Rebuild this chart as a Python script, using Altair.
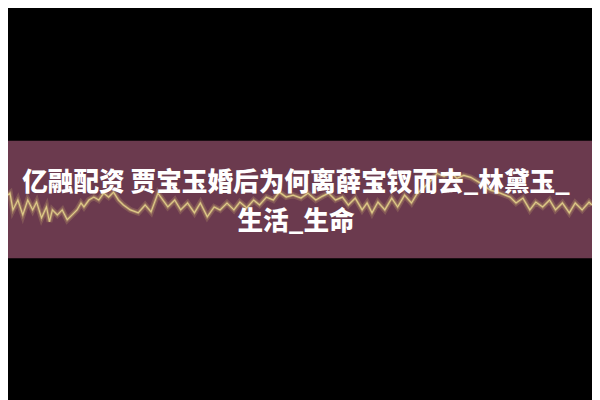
import altair as alt
import pandas as pd

# waveform samples (time, amplitude)
wave_t = [0,5,10,13,18,23,28,33,37,42,47,50,53,58,63,68,73,78,82,85,90,95,100,105,110,115,120,125,132,140,147,153,160,170,177,183,190,197,203,210,217,223,230,237,243,250,257,263,270,277,283,290,297,305,312,320,327,333,340,347,353,360,367,372,377,383,390,397,403,410,417,423,430,437,443,450,457,463,470,477,487,497,507,517,523,530,537,543,550,557,563,570,577,583,590,597,600]
wave_y = [192,197,193,210,200,215,200,210,202,218,207,222,210,215,210,220,215,210,203,207,200,197,200,193,197,192,200,205,210,213,205,212,193,207,200,210,203,213,203,217,207,210,203,210,202,208,200,205,197,200,192,197,195,198,193,200,196,193,200,197,205,198,210,203,213,202,210,198,207,195,203,193,187,180,173,176,172,178,175,177,183,190,193,197,203,198,210,202,207,200,210,203,213,203,210,202,205]
wave_amp = [200 - v for v in wave_y]

title_line1 = ["亿融配资 贾宝玉婚后为何离薛宝钗而去_林黛玉_"]
title_line2 = ["生活_生命"]

W, H = 592, 392

wave_df = pd.DataFrame({"t": wave_t, "amp": wave_amp})

xs = alt.Scale(domain=[0, 600], range=[-8, 592])
ys = alt.Scale(domain=[-60, 60], range=[252, 132])

band = alt.Chart(pd.DataFrame({"a": [0]})).mark_rect(color="#6b3a4e").encode(
    x=alt.value(0), x2=alt.value(W), y=alt.value(132), y2=alt.value(251)
)

base = alt.Chart(wave_df).encode(
    x=alt.X("t:Q", scale=xs, axis=None),
    y=alt.Y("amp:Q", scale=ys, axis=None),
)
glow = base.mark_line(color="#f0d680", strokeWidth=6, opacity=0.18)
glow2 = base.mark_line(color="#f0d680", strokeWidth=3, opacity=0.3)
wave = base.mark_line(color="#e2cf8a", strokeWidth=1.2, opacity=0.95)

def text_layer(lines, ypos):
    return alt.Chart(pd.DataFrame({"text": lines})).mark_text(
        font="Noto Sans CJK SC", fontSize=26, fontWeight=900, color="white",
        align="center", baseline="middle"
    ).encode(x=alt.value(292), y=alt.value(ypos), text="text:N")

txt1 = text_layer(title_line1, 175)
txt2 = text_layer(title_line2, 214)

chart = alt.layer(band, glow, glow2, wave, txt1, txt2).properties(
    width=W, height=H, background="black", padding=0,
    autosize=alt.AutoSizeParams(type="none"),
).configure_view(stroke=None)

chart.save("out.html", embed_options={"renderer": "svg", "actions": False})
